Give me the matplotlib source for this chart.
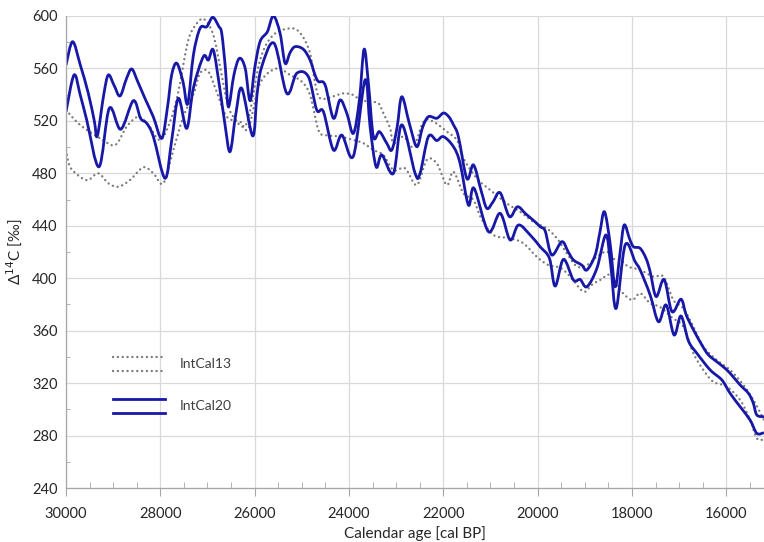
import numpy as np
import matplotlib
matplotlib.use('Agg')
import matplotlib.pyplot as plt
from matplotlib.ticker import MultipleLocator
from matplotlib.path import Path
from matplotlib.patches import PathPatch

plt.rcParams['font.family'] = ['Lato', 'DejaVu Sans']

# IntCal20 band (upper / lower), cal BP vs Delta14C
ic20_up_x = [30000, 29860, 29700, 29527, 29400, 29336, 29200, 29103, 28980, 28855, 28720, 28607,
             28480, 28324, 28148, 27970, 27850, 27760, 27652, 27520, 27420, 27300, 27158, 27016,
             26889, 26760, 26698, 26620, 26557, 26440, 26324, 26200, 26098, 26000, 25886, 25730,
             25603, 25461, 25355, 25250, 25143, 24967, 24825, 24720, 24648, 24506, 24330, 24189,
             24046, 23906, 23779, 23680, 23588, 23482, 23355, 23200, 23092, 22980, 22880, 22720,
             22562, 22440, 22316, 22138, 21997, 21880, 21785, 21680, 21500, 21360, 21200, 21077,
             20950, 20795, 20598, 20428, 20250, 20053, 19947, 19840, 19700, 19486, 19350, 19240,
             19063, 18955, 18780, 18680, 18583, 18463, 18356, 18250, 18165, 18050, 17967, 17826,
             17700, 17614, 17487, 17318, 17151, 16961, 16850, 16694, 16500, 16376, 16200, 16050,
             15918, 15706, 15530, 15430, 15352, 15200]
ic20_up_y = [562.6, 580.4, 563, 541, 520, 508.5, 540, 555, 547, 539, 552, 559.6,
             550, 537, 523, 506.7, 530, 555, 564, 550, 533, 570, 590.6, 591.8,
             599, 592, 586.8, 560, 530.8, 555, 567.7, 560, 535.4, 560, 580.4, 588,
             600, 586.8, 564, 572, 576.6, 574.6, 566.4, 555, 550, 547.4, 522, 536,
             525.8, 510.5, 536, 574.6, 548.7, 508, 511.8, 503, 497.8, 515, 538.4, 518,
             500.3, 515, 523.2, 522, 526, 523, 517, 508, 476, 486.4, 467, 453.3,
             458, 465.2, 447, 454.5, 449, 443, 439.3, 436, 417.7, 427.9, 420, 413.9,
             410, 406.3, 417.7, 435, 450.7, 426.6, 393.5, 420, 440.6, 430, 424, 422.8,
             415, 405, 386, 399, 374.5, 384, 372, 360.5, 348, 341.4, 336.3, 332,
             327.5, 318.6, 312.2, 305, 295.7, 294.4]

ic20_lo_x = [30000, 29830, 29700, 29561, 29300, 29082, 28840, 28573, 28420, 28290, 28148, 27900,
             27760, 27618, 27440, 27300, 27088, 26982, 26876, 26740, 26628, 26522, 26400, 26274,
             26041, 25950, 25850, 25588, 25319, 25107, 24861, 24683, 24542, 24330, 24152, 23906,
             23659, 23553, 23425, 23304, 23058, 22880, 22598, 22493, 22316, 22139, 21998, 21785,
             21644, 21467, 21347, 21043, 20795, 20583, 20406, 20159, 19947, 19750, 19628, 19452,
             19240, 19098, 18955, 18743, 18553, 18450, 18335, 18144, 17932, 17826, 17614, 17437,
             17275, 17106, 16961, 16800, 16622, 16340, 16093, 15918, 15706, 15494, 15352, 15200]
ic20_lo_y = [527, 555, 540, 520.7, 485, 529.6, 513.6, 535.4, 522, 518.2, 508, 476.2,
             505, 537.2, 514.3, 545, 569, 566.4, 574, 545, 516.9, 496.5, 525, 544.8,
             508.5, 540, 561.3, 579.2, 541, 556.3, 553.7, 528.3, 527, 497.8, 509.2, 493.2,
             551.2, 515.6, 485, 494, 480, 517, 480, 480, 508, 505, 508, 500.3,
             487.6, 455.8, 468.6, 435.5, 449.5, 429.2, 440.6, 433, 424, 415.2, 394, 414.4,
             398.6, 399, 393.5, 407.6, 433, 410, 377, 425.3, 412.6, 406.3, 387.2, 366.8,
             379.6, 356.7, 371.2, 352, 342.7, 330, 322.4, 312.2, 302, 291.8, 281.7, 282.2]

# IntCal13 band (upper / lower)
ic13_up_x = [30000, 29700, 29279, 28960, 28713, 28467, 28254, 28006, 27794, 27618, 27406, 27194,
             27052, 26876, 26734, 26593, 26452, 26168, 25885, 25603, 25215, 25003, 24825, 24718,
             24612, 24365, 24118, 23906, 23765, 23553, 23376, 23270, 23128, 23058, 22846, 22634,
             22420, 22210, 21925, 21713, 21573, 21290, 21007, 20654, 20371, 20089, 19806, 19593,
             19400, 19169, 18955, 18743, 18534, 18425, 18250, 18074, 17826, 17545, 17333, 17121,
             16909, 16697, 16485, 16200, 15918, 15636, 15424, 15200]
ic13_up_y = [528.3, 516.9, 506.7, 501.6, 515.6, 523.2, 516.9, 505.4, 519.4, 542.3, 581.7, 595.7,
             597, 585.5, 561.3, 536, 523.2, 518.2, 566.4, 585.5, 590.6, 585.5, 571.5, 548.7,
             537.2, 538.4, 541, 539.7, 536, 534.6, 533.4, 525.8, 514.3, 503, 508, 500.3,
             519.4, 519.4, 511.8, 505.4, 491.5, 476.2, 467.3, 457.1, 450.7, 443, 438, 430.5,
             420, 409, 410, 416.4, 420.3, 415.2, 413.9, 408.8, 406.3, 401.2, 401.2, 383.4,
             377, 363, 347.8, 337.6, 330, 318.6, 307.1, 291.8]

ic13_lo_x = [30000, 29915, 29703, 29527, 29315, 29103, 28891, 28643, 28360, 28148, 27936, 27724,
             27512, 27300, 27158, 26982, 26804, 26593, 26310, 26133, 25885, 25532, 25249, 25003,
             24825, 24648, 24506, 24189, 23906, 23694, 23482, 23270, 23058, 22810, 22562, 22350,
             22139, 21925, 21785, 21573, 21361, 21200, 20938, 20583, 20301, 20018, 19772, 19520,
             19310, 19028, 18850, 18677, 18463, 18250, 18002, 17826, 17614, 17400, 17150, 16909,
             16697, 16485, 16273, 15990, 15706, 15494, 15352, 15200]
ic13_lo_y = [497.8, 485, 477.4, 474.9, 480, 472.4, 469.8, 474.9, 484.6, 480, 472.4, 497.8,
             523.2, 540, 556.3, 557.5, 542, 523.2, 519.4, 514.3, 548.7, 560, 555, 550,
             539.7, 513, 509.2, 508, 505.4, 503, 497.8, 494, 482.5, 483.8, 471.1, 490.2,
             487.6, 471.1, 481.2, 464.8, 459.7, 446, 433, 430.5, 426.6, 416.4, 410, 408,
             401.2, 389.8, 395, 398.6, 402.5, 391, 383.4, 388.5, 380.9, 378, 370, 363,
             342.7, 330, 321, 317.3, 307.1, 291.8, 277.9, 277]

blue = '#1818a8'
grey = '#7a7a7a'
dots = (0, (0.05, 2.0))


def smooth_line(ax, xs, ys, **kw):
    # spreadsheet-style smoothed line: Catmull-Rom segments as cubic Beziers
    p = np.column_stack([xs, ys]).astype(float)
    p = np.vstack([p[0], p, p[-1]])
    verts = [p[1]]
    codes = [Path.MOVETO]
    for i in range(1, len(p) - 2):
        c1 = p[i] + (p[i + 1] - p[i - 1]) / 6.0
        c2 = p[i + 1] - (p[i + 2] - p[i]) / 6.0
        verts += [c1, c2, p[i + 1]]
        codes += [Path.CURVE4] * 3
    ax.add_patch(PathPatch(Path(verts, codes), fill=False, **kw))


fig = plt.figure(figsize=(7.64, 5.42), dpi=100)
ax = fig.add_axes([0.0864, 0.0996, 0.9136, 0.8709])

smooth_line(ax, ic13_up_x, ic13_up_y, edgecolor=grey, lw=1.7, ls=dots, capstyle='round')
smooth_line(ax, ic13_lo_x, ic13_lo_y, edgecolor=grey, lw=1.7, ls=dots, capstyle='round')
smooth_line(ax, ic20_up_x, ic20_up_y, edgecolor=blue, lw=2.0, joinstyle='round')
smooth_line(ax, ic20_lo_x, ic20_lo_y, edgecolor=blue, lw=2.0, joinstyle='round')

ax.set_xlim(30000, 15200)
ax.set_ylim(240, 600)
ax.xaxis.set_major_locator(MultipleLocator(2000))
ax.xaxis.set_minor_locator(MultipleLocator(500))
ax.yaxis.set_major_locator(MultipleLocator(40))
ax.yaxis.set_minor_locator(MultipleLocator(20))
ax.grid(True, which='major', color='#d9d9d9', lw=0.9)
ax.set_axisbelow(True)

for s in ['top', 'right']:
    ax.spines[s].set_visible(False)
for s in ['left', 'bottom']:
    ax.spines[s].set_color('#a6a6a6')
    ax.spines[s].set_linewidth(0.9)

ax.tick_params(axis='x', which='major', direction='out', length=6, color='#a6a6a6',
               labelsize=10.5, labelcolor='#262626', pad=8)
ax.tick_params(axis='x', which='minor', direction='in', length=4, color='#a6a6a6')
ax.tick_params(axis='y', which='major', length=0, labelsize=10.5, labelcolor='#262626', pad=6)
ax.tick_params(axis='y', which='minor', direction='in', length=3, color='#a6a6a6')

ax.set_xlabel('Calendar age [cal BP]', fontsize=11, color='#262626', labelpad=3)
ax.set_ylabel('Δ$^{14}$C [‰]', fontsize=11, color='#262626', labelpad=6)

# hand-made legend
tr = ax.transAxes
ax.plot([0.0673, 0.1375], [0.2775, 0.2775], transform=tr, color=grey, lw=1.7,
        ls=dots, dash_capstyle='round')
ax.plot([0.0673, 0.1375], [0.2479, 0.2479], transform=tr, color=grey, lw=1.7,
        ls=dots, dash_capstyle='round')
ax.plot([0.0673, 0.1418], [0.1886, 0.1886], transform=tr, color=blue, lw=2.0)
ax.plot([0.0673, 0.1418], [0.1589, 0.1589], transform=tr, color=blue, lw=2.0)
ax.text(0.1633, 0.2627, 'IntCal13', transform=tr, fontsize=10, color='#404040', va='center')
ax.text(0.1633, 0.1737, 'IntCal20', transform=tr, fontsize=10, color='#404040', va='center')

fig.savefig('out.png', dpi=100)
